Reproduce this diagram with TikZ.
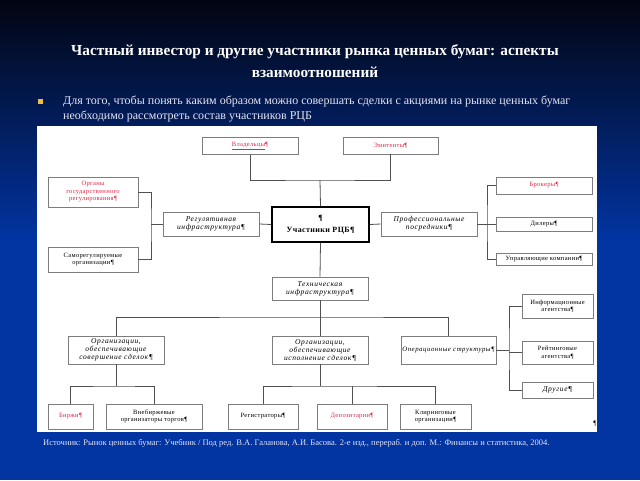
\documentclass[tikz,border=0pt]{standalone}
\usepackage{fontspec}
\setmainfont{Liberation Serif}
\newfontfamily\bxfont[LetterSpace=5]{Liberation Serif}
\newfontfamily\bxitfont[LetterSpace=8]{Liberation Serif}
\definecolor{bgblue}{RGB}{2,52,162}
\definecolor{bgdark}{RGB}{2,5,18}
\definecolor{boxgray}{RGB}{125,125,125}
\definecolor{linegray}{RGB}{80,80,80}
\definecolor{txtred}{RGB}{222,40,70}
\definecolor{bulletyel}{RGB}{240,190,60}
\definecolor{lav}{RGB}{228,228,242}
\begin{document}
\begin{tikzpicture}[x=1pt,y=-1pt,
    every node/.style={inner sep=0pt},
    box/.style 2 args={draw=boxgray,line width=0.8pt,fill=white,align=center,
      minimum width=#1,minimum height=#2,font=\bxfont\fontsize{6.5}{7.5}\selectfont},
    itbox/.style={font=\bxitfont\itshape\fontsize{7.5}{8}\selectfont},
    redtext/.style={text=txtred},
    conn/.style={draw=linegray,line width=0.8pt}]
  \shade[top color=bgdark,bottom color=bgblue] (0,0) rectangle (640,240);
  \fill[bgblue] (0,240) rectangle (640,480);
  \node[text=white,align=center,font=\bfseries\fontsize{15.3}{22}\selectfont] (title) at (315,61)
    {Частный инвестор и другие участники рынка ценных бумаг: аспекты\\взаимоотношений};
  \fill[bulletyel] (38,99) rectangle (43,104);
  \node[text=lav,anchor=west,align=left,font=\fontsize{12}{15}\selectfont] (intro) at (63,108.5)
    {Для того, чтобы понять каким образом можно совершать сделки с акциями на рынке ценных бумаг\\необходимо рассмотреть состав участников РЦБ};
  \fill[white] (37,126) rectangle (597,432);
  \node[box={96pt}{17pt},redtext] (vlad) at (250,146) {\underline{Владельцы}¶};
  \node[box={95pt}{17pt},redtext] (emit) at (390.5,145.5) {Эмитенты¶};
  \node[box={97pt}{35pt},draw=black,line width=1.6pt,font=\bxfont\bfseries\fontsize{8}{12}\selectfont] (uch) at (320.5,224.5) {¶\\Участники РЦБ¶};
  \node[box={96pt}{24pt},itbox] (reg) at (211,224) {Регулятивная\\инфраструктура¶};
  \node[box={96pt}{24pt},itbox] (prof) at (429,224) {Профессиональные\\посредники¶};
  \node[box={90pt}{30pt},redtext] (organy) at (93,192) {Органы\\государственного\\регулирования¶};
  \node[box={90pt}{25pt}] (samoreg) at (93,259.5) {Саморегулируемые\\организации¶};
  \node[box={96pt}{17pt},redtext] (brok) at (544,185.5) {Брокеры¶};
  \node[box={96pt}{14pt}] (dil) at (544,224) {Дилеры¶};
  \node[box={96pt}{12pt}] (upr) at (544,259) {Управляющие компании¶};
  \node[box={96pt}{23pt},itbox] (tech) at (320,288.5) {Техническая\\инфраструктура¶};
  \node[box={96pt}{28pt},itbox] (org1) at (116,350) {Организации,\\обеспечивающие\\совершение сделок¶};
  \node[box={96pt}{28pt},itbox] (org2) at (320,350) {Организации,\\обеспечивающие\\исполнение сделок¶};
  \node[box={95pt}{28pt},itbox,font=\bxitfont\itshape\fontsize{6.8}{8}\selectfont] (oper) at (448.5,350) {Операционные структуры¶};
  \node[box={71pt}{24pt}] (info) at (557.5,306) {Информационные\\агентства¶};
  \node[box={71pt}{23pt}] (reit) at (557.5,352.5) {Рейтинговые\\агентства¶};
  \node[box={71pt}{16pt},itbox] (drug) at (557.5,390) {Другие¶};
  \node[box={45pt}{25pt},redtext] (birzh) at (70.5,416.5) {Биржи¶};
  \node[box={96pt}{25pt}] (vnebirzh) at (154,416.5) {Внебиржевые\\организаторы торгов¶};
  \node[box={70pt}{25pt}] (registr) at (263,416.5) {Регистраторы¶};
  \node[box={70pt}{25pt},redtext] (depo) at (352,416.5) {Депозитарии¶};
  \node[box={71pt}{25pt}] (kliring) at (435.5,416.5) {Клиринговые\\организации¶};
  \node[font=\fontsize{7}{7}\selectfont] (pil) at (595,424) {¶};
  \coordinate (top) at (320,180);
  \coordinate (lb) at (151,224);
  \coordinate (rb) at (487,224);
  \coordinate (hb) at (320,317);
  \coordinate (ob) at (509,350);
  \coordinate (h1) at (116,386);
  \coordinate (h2) at (320,386);
  \draw[conn] (vlad.south) |- (top) -| (emit.south);
  \draw[conn] (top) -- (uch.north);
  \draw[conn] (reg.east) -- (uch.west);
  \draw[conn] (uch.east) -- (prof.west);
  \draw[conn] (reg.west) -- (lb);
  \draw[conn] (organy.east) -| (lb) |- (samoreg.east);
  \draw[conn] (prof.east) -- (rb);
  \draw[conn] (brok.west) -| (rb) |- (upr.west);
  \draw[conn] (dil.west) -- (rb);
  \draw[conn] (uch.south) -- (tech.north);
  \draw[conn] (tech.south) -- (org2.north);
  \draw[conn] (org1.north) |- (hb) -| (oper.north);
  \draw[conn] (oper.east) -- (ob);
  \draw[conn] (info.west) -| (ob) |- (drug.west);
  \draw[conn] (reit.west) -- (reit.west -| ob);
  \draw[conn] (org1.south) -- (h1);
  \draw[conn] (birzh.north) |- (h1) -| (vnebirzh.north);
  \draw[conn] (org2.south) -- (h2);
  \draw[conn] (registr.north) |- (h2) -| (kliring.north);
  \draw[conn] (depo.north) -- (depo.north |- h2);
  \node[text=lav,anchor=west,font=\fontsize{8.5}{9}\selectfont] (source) at (43,443)
    {Источник: Рынок ценных бумаг: Учебник / Под ред. В.А. Галанова, А.И. Басова. 2-е изд., перераб. и доп. М.: Финансы и статистика, 2004.};
\end{tikzpicture}
\end{document}
